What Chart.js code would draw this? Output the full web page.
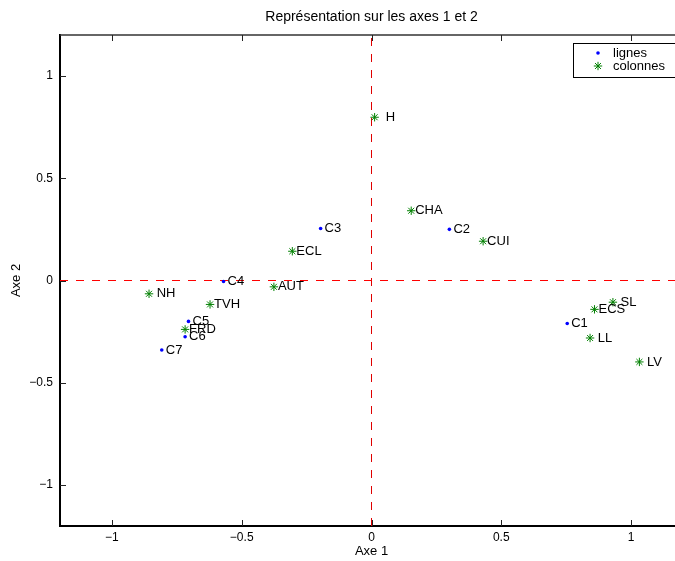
<!DOCTYPE html>
<html>
<head>
<meta charset="utf-8">
<script src="https://cdn.jsdelivr.net/npm/chart.js@4.4.0/dist/chart.umd.min.js"></script>
<style>
  html, body { margin: 0; padding: 0; background: #fff; overflow: hidden; }
  #wrap { width: 700px; height: 561px; }
</style>
</head>
<body>
<div id="wrap"><canvas id="chart" width="700" height="561"></canvas></div>
<script>
// lignes (blue dots)
const rowLabels = ["C1", "C2", "C3", "C4", "C5", "C6", "C7"];
const rowX = [0.754, 0.30, -0.196, -0.57, -0.705, -0.718, -0.808];
const rowY = [-0.21, 0.25, 0.254, -0.005, -0.20, -0.275, -0.34];

// colonnes (green stars)
const colLabels = ["  H", "CHA", "CUI", "ECL", " NH", "TVH", "AUT", "FRD", "ECS", " SL", " LL", " LV"];
const colX = [0.012, 0.153, 0.43, -0.305, -0.857, -0.622, -0.376, -0.718, 0.859, 0.93, 0.842, 1.032];
const colY = [0.798, 0.341, 0.192, 0.143, -0.065, -0.117, -0.031, -0.239, -0.141, -0.106, -0.281, -0.398];

const axisRange = [-1.2, 1.2];
const tickValues = [-1, -0.5, 0, 0.5, 1];
const seriesNames = ["lignes", "colonnes"];
const chartTitle = "Représentation sur les axes 1 et 2";
const xTitle = "Axe 1";
const yTitle = "Axe 2";

const FONT = "'Liberation Sans', Arial, Helvetica, sans-serif";

const toPoints = (xs, ys) => xs.map((x, i) => ({ x, y: ys[i] }));

// text labels next to each point
const labelPlugin = {
  id: "pointLabels",
  afterDatasetsDraw(chart) {
    const ctx = chart.ctx;
    ctx.save();
    ctx.font = "13px " + FONT;
    ctx.fillStyle = "#000";
    ctx.textBaseline = "middle";
    ctx.textAlign = "left";
    chart.data.datasets.forEach((ds, di) => {
      if (!ds.pointLabels) return;
      const meta = chart.getDatasetMeta(di);
      meta.data.forEach((pt, i) => {
        ctx.fillText(ds.pointLabels[i], pt.x + 4, pt.y);
      });
    });
    ctx.restore();
  }
};

// matlab-ish frame: top line, inward ticks, title, legend box
const framePlugin = {
  id: "frame",
  afterDraw(chart) {
    const ctx = chart.ctx;
    const a = chart.chartArea;
    const xs = chart.scales.x, ys = chart.scales.y;
    ctx.save();

    ctx.strokeStyle = "#333";
    ctx.lineWidth = 1.5;
    ctx.beginPath();
    ctx.moveTo(a.left, a.top);
    ctx.lineTo(a.right, a.top);
    ctx.stroke();

    ctx.strokeStyle = "#222";
    ctx.lineWidth = 1;
    ctx.beginPath();
    tickValues.forEach(v => {
      const px = Math.round(xs.getPixelForValue(v)) + 0.5;
      ctx.moveTo(px, a.bottom);
      ctx.lineTo(px, a.bottom - 6);
      ctx.moveTo(px, a.top);
      ctx.lineTo(px, a.top + 6);
      const py = Math.round(ys.getPixelForValue(v)) + 0.5;
      ctx.moveTo(a.left, py);
      ctx.lineTo(a.left + 6, py);
    });
    ctx.stroke();

    // title
    ctx.fillStyle = "#000";
    ctx.font = "14px " + FONT;
    ctx.textAlign = "center";
    ctx.textBaseline = "middle";
    ctx.fillText(chartTitle, (a.left + a.right) / 2, 17);

    // legend
    const lx = 573, ly = 43, lw = 140, lh = 34;
    ctx.fillStyle = "#fff";
    ctx.fillRect(lx, ly, lw, lh);
    ctx.strokeStyle = "#000";
    ctx.lineWidth = 1;
    ctx.strokeRect(lx + 0.5, ly + 0.5, lw, lh);

    const pts = chart.data.datasets.filter(d => d.pointLabels);
    pts.forEach((ds, i) => {
      const cy = ly + 10 + i * 13;
      const cx = lx + 25;
      ctx.fillStyle = ds.backgroundColor;
      ctx.strokeStyle = ds.borderColor;
      ctx.lineWidth = ds.borderWidth;
      ctx.beginPath();
      if (ds.pointStyle === "circle") {
        ctx.arc(cx, cy, ds.pointRadius, 0, Math.PI * 2);
        ctx.fill();
      } else {
        const r = ds.pointRadius;
        for (let k = 0; k < 4; k++) {
          const ang = k * Math.PI / 4;
          ctx.moveTo(cx - r * Math.cos(ang), cy - r * Math.sin(ang));
          ctx.lineTo(cx + r * Math.cos(ang), cy + r * Math.sin(ang));
        }
        ctx.stroke();
      }
      ctx.fillStyle = "#000";
      ctx.font = "13px " + FONT;
      ctx.textAlign = "left";
      ctx.fillText(ds.label, lx + 40, cy);
    });

    ctx.restore();
  }
};

new Chart(document.getElementById("chart"), {
  type: "scatter",
  data: {
    datasets: [
      {
        label: seriesNames[0],
        data: toPoints(rowX, rowY),
        pointLabels: rowLabels,
        pointStyle: "circle",
        pointRadius: 1.8,
        backgroundColor: "#0000ff",
        borderColor: "#0000ff",
        borderWidth: 0,
        order: 0
      },
      {
        label: seriesNames[1],
        data: toPoints(colX, colY),
        pointLabels: colLabels,
        pointStyle: "star",
        pointRadius: 4.2,
        backgroundColor: "#008000",
        borderColor: "#008000",
        borderWidth: 1,
        order: 1
      },
      {
        type: "line",
        data: toPoints(axisRange, [0, 0]),
        borderColor: "#ff0000",
        borderWidth: 1,
        borderDash: [8, 8],
        pointRadius: 0,
        order: 3
      },
      {
        type: "line",
        data: toPoints([0, 0], axisRange),
        borderColor: "#e00000",
        borderWidth: 1,
        borderDash: [8, 8],
        pointRadius: 0,
        order: 3
      }
    ]
  },
  options: {
    responsive: false,
    animation: false,
    events: [],
    layout: { padding: { top: 35, right: 17, left: 0, bottom: 0 } },
    plugins: {
      legend: { display: false },
      tooltip: { enabled: false },
      title: { display: false }
    },
    scales: {
      x: {
        type: "linear",
        min: axisRange[0],
        max: axisRange[1],
        afterBuildTicks: s => { s.ticks = tickValues.map(v => ({ value: v })); },
        afterFit: s => { s.height = 35; },
        grid: { display: false, drawTicks: false },
        border: { display: true, color: "#000", width: 2 },
        ticks: {
          padding: 4,
          color: "#000",
          font: { size: 12, family: FONT },
          callback: v => String(v).replace("-", "\u2212")
        },
        title: {
          display: true,
          text: xTitle,
          color: "#000",
          font: { size: 13, family: FONT },
          padding: { top: 0, bottom: 2 }
        }
      },
      y: {
        type: "linear",
        min: axisRange[0],
        max: axisRange[1],
        afterBuildTicks: s => { s.ticks = tickValues.map(v => ({ value: v })); },
        afterFit: s => { s.width = 60; },
        grid: { display: false, drawTicks: false },
        border: { display: true, color: "#000", width: 2 },
        ticks: {
          padding: 7,
          color: "#000",
          font: { size: 12, family: FONT },
          callback: v => String(v).replace("-", "\u2212")
        },
        title: {
          display: true,
          text: yTitle,
          color: "#000",
          font: { size: 13, family: FONT },
          padding: { top: 9, bottom: 0 }
        }
      }
    }
  },
  plugins: [labelPlugin, framePlugin]
});
</script>
</body>
</html>
